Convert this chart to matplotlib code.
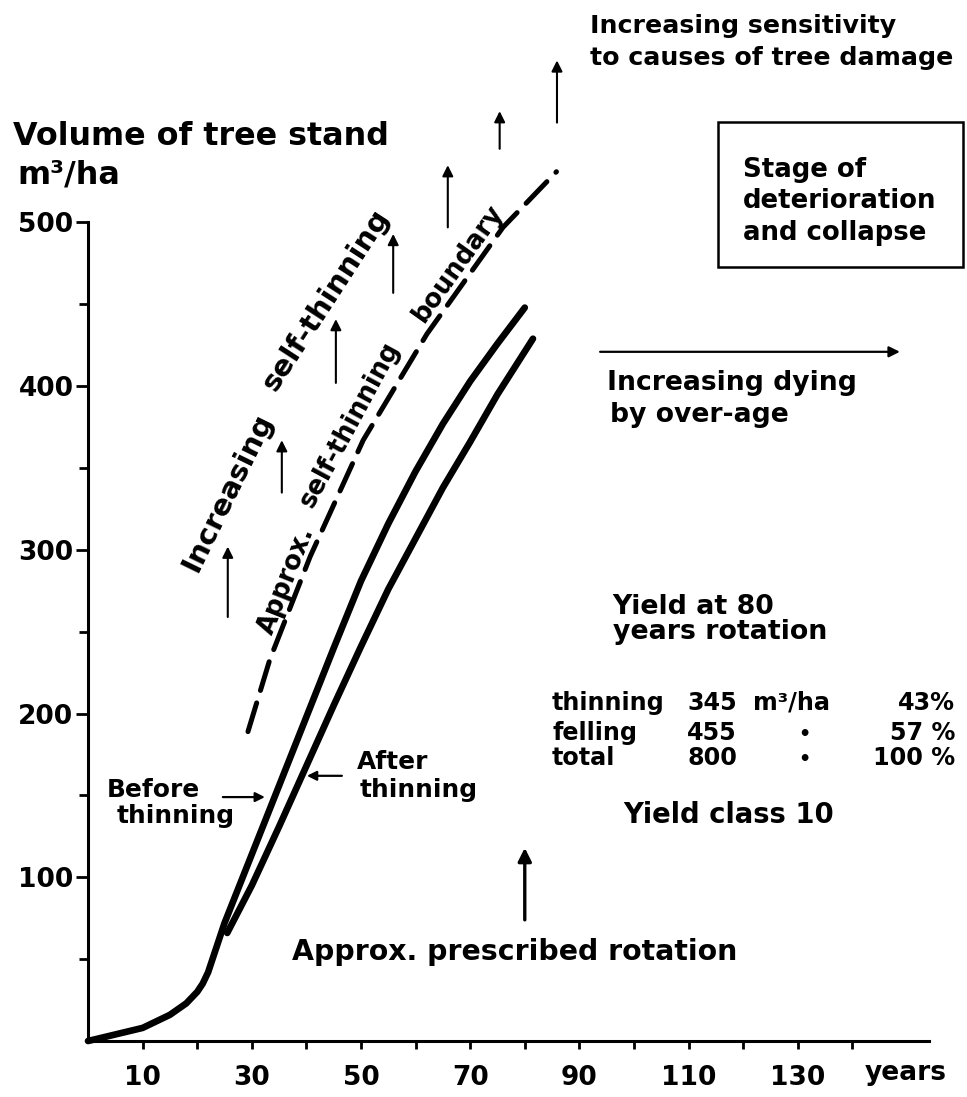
import matplotlib
matplotlib.use("Agg")
import numpy as np
import matplotlib.pyplot as plt
from matplotlib.patches import Rectangle

# ---------------- data ----------------
age_before = [0, 5, 10, 15, 18, 20, 21, 22, 23, 24, 25, 30, 35, 40, 45, 50, 55, 60, 65, 70, 75, 80]
vol_before = [0, 4, 8, 16, 23, 30, 35, 42, 52, 62, 72, 114, 156, 198, 240, 281, 316, 348, 377, 403, 426, 448]

age_after = [25.5, 30, 35, 40, 45, 50, 55, 60, 65, 70, 75, 81.5]
vol_after = [66, 95, 131, 168, 205, 241, 276, 307, 338, 366, 395, 429]

age_boundary = [29.3, 33.3, 40.7, 50.4, 62.1, 76, 85.8]
vol_boundary = [189, 233, 296, 367, 432, 497, 531]

arrow_ages = [25.6, 35.5, 45.4, 55.9, 65.9, 75.4, 85.9]
arrow_from = [259, 335, 402, 457, 497, 545, 561]
arrow_to = [302, 367, 441, 493, 535, 568, 599]

rotation_age = 80
rotation_arrow = [74, 118]

x_major = [10, 30, 50, 70, 90, 110, 130]
x_minor = [20, 40, 60, 80, 100, 120, 140]
y_major = [100, 200, 300, 400, 500]
y_minor = [50, 150, 250, 350, 450]

yield_names = ["thinning", "felling", "total"]
yield_volumes = [345, 455, 800]
yield_percent = [43, 57, 100]

# ---------------- figure ----------------
FONT = "DejaVu Sans"
plt.rcParams["font.family"] = [FONT]
plt.rcParams["font.weight"] = "bold"

fig = plt.figure(figsize=(9.67, 10.97), dpi=100)
ax = fig.add_axes([0, 0, 1, 1])
ax.set_xlim(-16.12, 161.0)
ax.set_ylim(-34.2, 635.9)
ax.patch.set_alpha(0)

for s in ("top", "right"):
    ax.spines[s].set_visible(False)
ax.spines["left"].set_position(("data", 0))
ax.spines["bottom"].set_position(("data", 0))
ax.spines["left"].set_bounds(0, 500)
ax.spines["bottom"].set_bounds(0, 154)
for s in ("left", "bottom"):
    ax.spines[s].set_linewidth(2.2)

ax.set_xticks(x_major)
ax.set_xticks(x_minor, minor=True)
ax.set_yticks(y_major)
ax.set_yticks(y_minor, minor=True)
ax.set_xticklabels([str(v) for v in x_major])
ax.set_yticklabels([str(v) for v in y_major])
ax.tick_params(axis="x", which="both", direction="out", length=6, width=2.0, pad=11, labelsize=19)
ax.tick_params(axis="y", which="major", direction="out", length=8.5, width=2.0, pad=2, labelsize=19)
ax.tick_params(axis="y", which="minor", direction="out", length=6.5, width=2.0)

# ---------------- curves ----------------
ax.plot(age_before, vol_before, color="black", lw=4.8, solid_capstyle="round", solid_joinstyle="round")
ax.plot(age_after, vol_after, color="black", lw=4.8, solid_capstyle="round", solid_joinstyle="round")
ax.plot(age_boundary, vol_boundary, color="black", lw=3.6, dashes=(6, 2.6), dash_capstyle="round")

# up arrows (self-thinning)
for a, f, t in zip(arrow_ages, arrow_from, arrow_to):
    ax.annotate("", xy=(a, t), xytext=(a, f),
                arrowprops=dict(arrowstyle="-|>", color="black", lw=1.5,
                                mutation_scale=16, shrinkA=0, shrinkB=0))

# rotation arrow
ax.annotate("", xy=(rotation_age, rotation_arrow[1]), xytext=(rotation_age, rotation_arrow[0]),
            arrowprops=dict(arrowstyle="-|>", color="black", lw=2.4,
                            mutation_scale=20, shrinkA=0, shrinkB=0))

# dying arrow
ax.annotate("", xy=(148.7, 421), xytext=(93.8, 421),
            arrowprops=dict(arrowstyle="-|>", color="black", lw=1.6,
                            mutation_scale=16, shrinkA=0, shrinkB=0))
# before / after pointers
ax.annotate("", xy=(32.4, 149), xytext=(24.7, 149),
            arrowprops=dict(arrowstyle="-|>", color="black", lw=1.6,
                            mutation_scale=14, shrinkA=0, shrinkB=0))
ax.annotate("", xy=(40.1, 162), xytext=(46.5, 162),
            arrowprops=dict(arrowstyle="-|>", color="black", lw=1.6,
                            mutation_scale=14, shrinkA=0, shrinkB=0))

# box
ax.add_patch(Rectangle((115.4, 472.8), 44.9, 88.6, fill=False, lw=1.8, edgecolor="black"))

# ---------------- texts ----------------
fig.canvas.draw()
R = fig.canvas.get_renderer()


def fit(s, width_px):
    t = ax.text(0, 0, s, fontsize=20)
    w = t.get_window_extent(renderer=R).width
    t.remove()
    return 20 * width_px / w


def fit_group(pairs, how="min"):
    vals = [fit(s, w) for s, w in pairs]
    return float(np.min(vals) if how == "min" else np.mean(vals))


def put(x, y, s, fs, rotation=0, **kw):
    kw.setdefault("va", "baseline")
    kw.setdefault("ha", "left")
    if rotation:
        kw["rotation"] = rotation
        kw["rotation_mode"] = "anchor"
    return ax.text(x, y, s, fontsize=fs, color="black", **kw)


def put_along_boundary(word, xd, off_px, fs):
    """Place a word parallel to the dashed boundary, offset up-left by off_px."""
    def pt(x):
        return ax.transData.transform((x, np.interp(x, age_boundary, vol_boundary)))
    p = pt(xd)
    d = pt(xd + 2.5) - pt(xd - 2.5)
    ang = np.degrees(np.arctan2(d[1], d[0]))
    n = np.array([-d[1], d[0]]) / np.hypot(*d)
    c = ax.transData.inverted().transform(p + n * off_px)
    return ax.text(c[0], c[1], word, fontsize=fs, rotation=ang, rotation_mode="anchor",
                   ha="center", va="center", color="black")


fs = fit("Volume of tree stand", 377)
put(-13.74, 547.3, "Volume of tree stand", fs)
put(-13.0, 524.1, "m³/ha", fs)
put(142.3, -23.8, "years", fit("years", 82))

fs = fit_group([("Increasing sensitivity", 367), ("to causes of tree damage", 363)])
put(91.94, 615.8, "Increasing sensitivity", fs)
put(91.94, 596.2, "to causes of tree damage", fs)

fs = fit_group([("Stage of", 139), ("deterioration", 194), ("and collapse", 195)])
put(120.0, 527.8, "Stage of", fs)
put(120.0, 508.9, "deterioration", fs)
put(120.0, 489.3, "and collapse", fs)

fs = fit_group([("Increasing dying", 250), ("by over-age", 188)])
put(95.05, 397.7, "Increasing dying", fs)
put(95.6, 378.1, "by over-age", fs)

fs = fit_group([("Yield at 80", 190), ("years rotation", 214)])
put(95.97, 261.0, "Yield at 80", fs)
put(96.15, 245.5, "years rotation", fs)

row_y = [202.2, 183.9, 168.6]
fs = fit("thinning", 113)
for i in range(3):
    put(85.0, row_y[i], yield_names[i], fs)
    put(114.3, row_y[i], str(yield_volumes[i]), fs, ha="center")
    pct = f"{yield_percent[i]}%" if i == 0 else f"{yield_percent[i]} %"
    put(158.8, row_y[i], pct, fs, ha="right")
put(121.8, row_y[0], "m³/ha", fs)
for i in range(1, 3):
    put(131.3, row_y[i], "•", fs * 0.8, ha="center")

put(98.0, 133.2, "Yield class 10", fit("Yield class 10", 212))

fs = fit_group([("Before", 95), ("thinning", 106), ("After", 78), ("thinning", 115)], how="mean")
put(3.48, 149.0, "Before", fs)
put(5.31, 133.2, "thinning", fs)
put(49.27, 166.2, "After", fs)
put(49.82, 149.0, "thinning", fs)

put(37.36, 49.5, "Approx. prescribed rotation", fit("Approx. prescribed rotation", 445))

# curved hand lettering: word by word
fs = fit_group([("Increasing", 175), ("self-thinning", 207)], how="mean")
put(25.6, 335.4, "Increasing", fs, rotation=63.9, ha="center", va="center")
put(43.6, 452.7, "self-thinning", fs, rotation=57.0, ha="center", va="center")

fs = fit_group([("Approx.", 105), ("self-thinning", 211), ("boundary", 130)], how="mean")
put_along_boundary("Approx.", 38.6, 13, fs)
put_along_boundary("self-thinning", 51.1, 20, fs)
put_along_boundary("boundary", 70.1, 15, fs)

fig.savefig("out.png", dpi=100, facecolor="white")
